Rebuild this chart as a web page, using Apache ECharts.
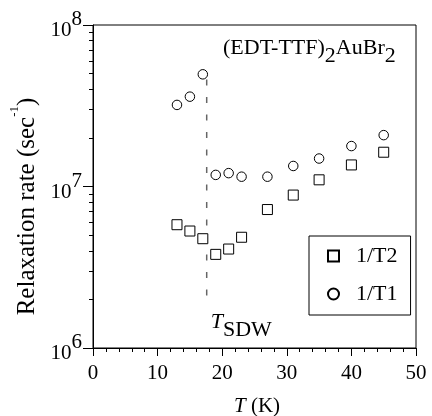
<!DOCTYPE html>
<html>
<head>
<meta charset="utf-8">
<script src="https://cdn.jsdelivr.net/npm/echarts@6/dist/echarts.min.js"></script>
<style>
html,body{margin:0;padding:0;background:#fff;}
#c{width:432px;height:416px;}
</style>
</head>
<body>
<div id="c"></div>
<script>
// ---- data ----
const tempT2 = [13, 15, 17, 19, 21, 23, 27, 31, 35, 40, 45];
const rateT2 = [5.8e6, 5.3e6, 4.75e6, 3.8e6, 4.1e6, 4.85e6, 7.2e6, 8.85e6, 1.10e7, 1.36e7, 1.63e7];
const tempT1 = [13, 15, 17, 19, 21, 23, 27, 31, 35, 40, 45];
const rateT1 = [3.2e7, 3.6e7, 4.95e7, 1.18e7, 1.21e7, 1.15e7, 1.15e7, 1.34e7, 1.49e7, 1.78e7, 2.08e7];
const sdwTemp = [17.6, 17.6];
const sdwRate = [4.6e7, 1.95e6];
const xTicks = [0, 10, 20, 30, 40, 50];
const yMinorTicks = [2e6,3e6,4e6,5e6,6e6,7e6,8e6,9e6,2e7,3e7,4e7,5e7,6e7,7e7,8e7,9e7];

const FONT = '"Liberation Serif", "DejaVu Serif", serif';
const chart = echarts.init(document.getElementById('c'), null, {renderer: 'canvas'});

const pts = (xs, ys) => xs.map((x, i) => [x, ys[i]]);

const option = {
  animation: false,
  backgroundColor: '#fff',
  grid: {left: 93, right: 16, top: 25, bottom: 68, containLabel: false, outerBoundsMode: 'none',
    show: true, borderColor: '#000', borderWidth: 1, backgroundColor: 'transparent'},
  legend: {
    data: ['1/T2', '1/T1'],
    orient: 'vertical',
    left: 309, top: 236,
    padding: [9, 13, 10, 18],
    itemGap: 16,
    itemWidth: 11, itemHeight: 11,
    borderColor: '#000', borderWidth: 1,
    textStyle: {fontFamily: FONT, fontSize: 22, lineHeight: 22, color: '#000', padding: [0, 0, 0, 12]}
  },
  xAxis: {
    type: 'value', min: 0, max: 50, interval: 10,
    name: '{i|T}{m| (K)}',
    nameLocation: 'middle', nameGap: 48,
    nameTextStyle: {padding: [0, 0, 0, 5], rich: {
      i: {fontFamily: FONT, fontSize: 21, fontStyle: 'italic', color: '#000'},
      m: {fontFamily: FONT, fontSize: 21, color: '#000'}
    }},
    axisLine: {show: true, lineStyle: {color: '#000', width: 1}},
    axisTick: {show: true, length: 8, lineStyle: {color: '#000'}},
    minorTick: {show: true, splitNumber: 5, length: 4, lineStyle: {color: '#000'}},
    splitLine: {show: false},
    axisLabel: {fontFamily: FONT, fontSize: 21, lineHeight: 21, color: '#000', margin: 15,
      formatter: v => xTicks.includes(v) ? String(v) : ''}
  },
  yAxis: [{
    type: 'log', logBase: 10, min: 1e6, max: 1e8, interval: 1,
    name: '{m|Relaxation rate (sec}{s|-1}{m|)}',
    nameLocation: 'middle', nameGap: 51, nameRotate: 90,
    nameTextStyle: {padding: [0, 40, 0, 0], rich: {
      m: {fontFamily: FONT, fontSize: 25, lineHeight: 32, height: 25, color: '#000', verticalAlign: 'bottom'},
      s: {fontFamily: FONT, fontSize: 13, lineHeight: 32, height: 13, color: '#000', verticalAlign: 'top'}
    }},
    axisLine: {show: true, lineStyle: {color: '#000', width: 1}},
    axisTick: {show: true, length: 10, lineStyle: {color: '#000'}},
    splitLine: {show: false},
    axisLabel: {margin: 11,
      formatter: v => '{b|10}{s|' + Math.round(Math.log10(v)) + '}',
      rich: {
        b: {fontFamily: FONT, fontSize: 21, lineHeight: 32, height: 21, color: '#000', verticalAlign: 'bottom'},
        s: {fontFamily: FONT, fontSize: 21, lineHeight: 32, height: 21, color: '#000', verticalAlign: 'top'}
      }}
  }, {
    type: 'log', logBase: 10, min: 1e6, max: 1e8, position: 'left',
    axisLine: {show: false}, axisLabel: {show: false}, splitLine: {show: false},
    axisTick: {show: true, length: 4, customValues: yMinorTicks, lineStyle: {color: '#000'}}
  }],
  series: [{
    name: 'sdw', type: 'line', data: pts(sdwTemp, sdwRate), symbol: 'none', silent: true, z: 1,
    lineStyle: {color: '#666', width: 1.5, type: [6, 11.5]}
  }, {
    name: '1/T2', type: 'scatter', data: pts(tempT2, rateT2), symbol: 'rect', symbolSize: 10, z: 3,
    itemStyle: {color: '#fff', borderColor: '#000', borderWidth: 1, opacity: 1}
  }, {
    name: '1/T1', type: 'scatter', data: pts(tempT1, rateT1), symbol: 'circle', symbolSize: 9.5, z: 3,
    itemStyle: {color: '#fff', borderColor: '#000', borderWidth: 1, opacity: 1}
  }]
};
chart.setOption(option);

// annotations anchored through the chart's scales
const subRich = (mainStyle) => ({
  m: Object.assign({fontFamily: FONT, fontSize: 22, lineHeight: 30, height: 22, fill: '#000', verticalAlign: 'top'}, mainStyle || {}),
  s: {fontFamily: FONT, fontSize: 22, lineHeight: 30, height: 22, fill: '#000', verticalAlign: 'bottom'}
});
const sdwPx = chart.convertToPixel({gridIndex: 0}, [sdwTemp[0], sdwRate[1]]);
chart.setOption({
  graphic: [{
    type: 'text', left: 223, top: 37, silent: true,
    style: {text: '{m|(EDT-TTF)}{s|2}{m|AuBr}{s|2}', rich: subRich()}
  }, {
    type: 'text', silent: true, x: sdwPx[0] + 4, y: sdwPx[1] + 10,
    style: {text: '{m|T}{s|SDW}', rich: subRich({fontStyle: 'italic'})}
  }]
});
</script>
</body>
</html>
